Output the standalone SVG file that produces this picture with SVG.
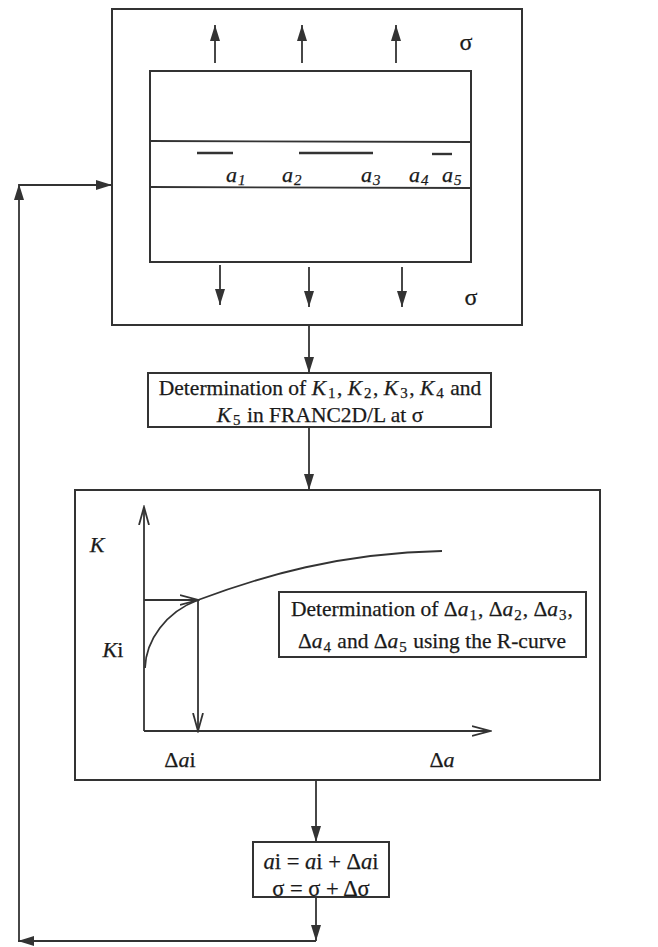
<svg xmlns="http://www.w3.org/2000/svg" width="658" height="947" viewBox="0 0 658 947">
<style>
.bx{fill:none;stroke:#333;stroke-width:2}
.ln{fill:none;stroke:#333;stroke-width:1.8}
.ck{fill:none;stroke:#333;stroke-width:2.4}
.t{font-family:"Liberation Serif","Times New Roman","DejaVu Serif",serif;fill:#1a1a1a;stroke:#1a1a1a;stroke-width:0.25}
.i{font-style:italic}
.s{font-size:15px}
.sb{font-size:15px;baseline-shift:-3px}
</style>
<defs>
<marker id="fa" markerUnits="userSpaceOnUse" markerWidth="17" markerHeight="10" refX="16" refY="5" orient="auto">
<path d="M0,0 L16,5 L0,10 z" fill="#333"/>
</marker>
<marker id="oa" markerUnits="userSpaceOnUse" markerWidth="20" markerHeight="12" refX="18" refY="6" orient="auto">
<path d="M0,1 L18,6 L0,11" fill="none" stroke="#333" stroke-width="1.8"/>
</marker>
</defs>

<g id="specimen">
<rect class="bx" x="112" y="9" width="410" height="316"/>
<rect class="bx" x="150" y="71" width="321" height="191"/>
<line class="ln" x1="150" y1="141" x2="471" y2="142"/>
<line class="ln" x1="150" y1="187" x2="471" y2="188"/>
<line class="ck" x1="197" y1="153" x2="233" y2="153"/>
<line class="ck" x1="299" y1="153" x2="373" y2="153"/>
<line class="ck" x1="432" y1="154" x2="452" y2="154"/>
<text class="t i" x="226" y="182" font-size="22">a<tspan class="s" dx="1" dy="3">1</tspan></text>
<text class="t i" x="282" y="182" font-size="22">a<tspan class="s" dx="1" dy="3">2</tspan></text>
<text class="t i" x="361" y="182" font-size="22">a<tspan class="s" dx="1" dy="3">3</tspan></text>
<text class="t i" x="409" y="182" font-size="22">a<tspan class="s" dx="1" dy="3">4</tspan></text>
<text class="t i" x="442" y="182" font-size="22">a<tspan class="s" dx="1" dy="3">5</tspan></text>
<line class="ln" x1="215" y1="63" x2="215" y2="25" marker-end="url(#fa)"/>
<line class="ln" x1="302" y1="63" x2="302" y2="25" marker-end="url(#fa)"/>
<line class="ln" x1="396" y1="63" x2="396" y2="25" marker-end="url(#fa)"/>
<line class="ln" x1="220" y1="265" x2="220" y2="305" marker-end="url(#fa)"/>
<line class="ln" x1="309" y1="267" x2="309" y2="307" marker-end="url(#fa)"/>
<line class="ln" x1="402" y1="267" x2="402" y2="307" marker-end="url(#fa)"/>
<text class="t" x="466" y="50" font-size="24" text-anchor="middle">σ</text>
<text class="t" x="471" y="305" font-size="24" text-anchor="middle">σ</text>
</g>

<g id="determineK">
<rect class="bx" x="148" y="373" width="343" height="54"/>
<text class="t" x="320" y="395" font-size="21.5" text-anchor="middle">Determination of <tspan class="i">K</tspan><tspan class="sb" dx="2">1</tspan><tspan dx="1.5">, </tspan><tspan class="i">K</tspan><tspan class="sb" dx="2">2</tspan><tspan dx="1.5">, </tspan><tspan class="i">K</tspan><tspan class="sb" dx="2">3</tspan><tspan dx="1.5">, </tspan><tspan class="i">K</tspan><tspan class="sb" dx="2">4</tspan><tspan dx="1"> and</tspan></text>
<text class="t" x="320" y="422" font-size="21.5" text-anchor="middle"><tspan class="i">K</tspan><tspan class="sb" dx="2">5</tspan><tspan dx="1"> in FRANC2D/L at σ</tspan></text>
</g>

<g id="rcurve">
<rect class="bx" x="75" y="490" width="525" height="290"/>
<line class="ln" x1="144" y1="731" x2="144" y2="507" marker-end="url(#oa)"/>
<line class="ln" x1="144" y1="731" x2="490" y2="731" marker-end="url(#oa)"/>
<path class="ln" d="M145,668 C146,640 166,612 198,600 C262,576 340,553 442,551"/>
<line class="ln" x1="144" y1="600" x2="198" y2="600" marker-end="url(#oa)"/>
<line class="ln" x1="198" y1="600" x2="198" y2="731" marker-end="url(#oa)"/>
<text class="t i" x="97" y="552" font-size="22" text-anchor="middle">K</text>
<text class="t" x="113" y="657" font-size="22" text-anchor="middle"><tspan class="i">K</tspan>i</text>
<text class="t" x="180" y="767" font-size="22" text-anchor="middle">Δ<tspan class="i">a</tspan>i</text>
<text class="t" x="442" y="767" font-size="22" text-anchor="middle">Δ<tspan class="i">a</tspan></text>
</g>

<g id="determineDa">
<rect class="bx" x="279" y="592" width="307" height="65"/>
<text class="t" x="432" y="616" font-size="21.5" text-anchor="middle">Determination of Δ<tspan class="i">a</tspan><tspan class="s" dx="1" dy="4">1</tspan><tspan dx="1" dy="-4">, Δ</tspan><tspan class="i">a</tspan><tspan class="s" dx="1" dy="4">2</tspan><tspan dx="1" dy="-4">, Δ</tspan><tspan class="i">a</tspan><tspan class="s" dx="1" dy="4">3</tspan><tspan dx="1" dy="-4">,</tspan></text>
<text class="t" x="432" y="648" font-size="21.5" text-anchor="middle">Δ<tspan class="i">a</tspan><tspan class="s" dx="1" dy="4">4</tspan><tspan dx="1" dy="-4"> and Δ</tspan><tspan class="i">a</tspan><tspan class="s" dx="1" dy="4">5</tspan><tspan dx="1" dy="-4"> using the R-curve</tspan></text>
</g>

<g id="update">
<rect class="bx" x="253" y="842" width="136" height="55"/>
<text class="t" x="321" y="869" font-size="22.5" text-anchor="middle"><tspan class="i">a</tspan>i = <tspan class="i">a</tspan>i + Δ<tspan class="i">a</tspan>i</text>
<text class="t" x="321" y="896" font-size="22.5" text-anchor="middle">σ = σ + Δσ</text>
</g>

<g id="connectors">
<line class="ln" x1="309" y1="325" x2="309" y2="373" marker-end="url(#fa)"/>
<line class="ln" x1="309" y1="427" x2="309" y2="490" marker-end="url(#fa)"/>
<line class="ln" x1="316" y1="780" x2="316" y2="842" marker-end="url(#fa)"/>
<line class="ln" x1="316" y1="897" x2="316" y2="941" marker-end="url(#fa)"/>
<line class="ln" x1="316" y1="941" x2="18" y2="941" marker-end="url(#fa)"/>
<line class="ln" x1="19" y1="941" x2="19" y2="184" marker-end="url(#fa)"/>
<line class="ln" x1="19" y1="185" x2="112" y2="185" marker-end="url(#fa)"/>
</g>
</svg>
